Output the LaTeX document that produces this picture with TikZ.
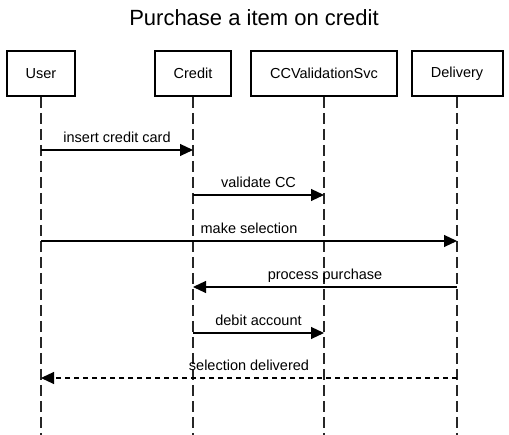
\documentclass[tikz,border=0pt]{standalone}
\usepackage{fontspec}
\setmainfont{Liberation Sans}
\usetikzlibrary{arrows.meta}
\begin{document}
\begin{tikzpicture}[x=1pt,y=-1pt,
  actor/.style={draw=black, line width=2pt, minimum height=45pt, inner sep=0pt, font=\fontsize{14.5}{17}\selectfont, fill=white},
  life/.style={draw=black!85, line width=1.2pt, dash pattern=on 11pt off 5pt},
  msg/.style={draw=black, line width=1.1pt, -{Triangle[length=13pt,width=12pt]}},
  ret/.style={msg, dash pattern=on 5pt off 4pt},
  lbl/.style={midway, anchor=base, yshift=7pt, inner sep=0pt, font=\fontsize{14.5}{17}\selectfont}]
\useasboundingbox (0,0) rectangle (509,435);
\node[anchor=base, font=\fontsize{22}{26}\selectfont] (title) at (254,26) {Purchase a item on credit};
% actors
\node[actor, minimum width=68pt] (user) at (41,73.5) {User};
\node[actor, minimum width=76pt] (credit) at (193,73.5) {Credit};
\node[actor, minimum width=146pt] (ccv) at (324,73.5) {CCValidationSvc};
\node[actor, minimum width=91pt] (deliv) at (457,73.5) {Delivery};
% lifeline ends
\coordinate (bot) at (0,435);
\coordinate (ue) at (user.south |- bot);
\coordinate (ce) at (credit.south |- bot);
\coordinate (ve) at (ccv.south |- bot);
\coordinate (de) at (deliv.south |- bot);
\draw[life] (user.south) -- (ue);
\draw[life] (credit.south) -- (ce);
\draw[life] (ccv.south) -- (ve);
\draw[life] (deliv.south) -- (de);
% message levels
\coordinate (y1) at (0,150);
\coordinate (y2) at (0,195);
\coordinate (y3) at (0,241);
\coordinate (y4) at (0,287);
\coordinate (y5) at (0,333);
\coordinate (y6) at (0,378);
\draw[msg] (user |- y1) -- (credit |- y1) node[lbl] {insert credit card};
\draw[msg] (credit |- y2) -- (ccv |- y2) node[lbl] {validate CC};
\draw[msg] (user |- y3) -- (deliv |- y3) node[lbl] {make selection};
\draw[msg] (deliv |- y4) -- (credit |- y4) node[lbl] {process purchase};
\draw[msg] (credit |- y5) -- (ccv |- y5) node[lbl] {debit account};
\draw[ret] (deliv |- y6) -- (user |- y6) node[lbl] {selection delivered};
\end{tikzpicture}
\end{document}
